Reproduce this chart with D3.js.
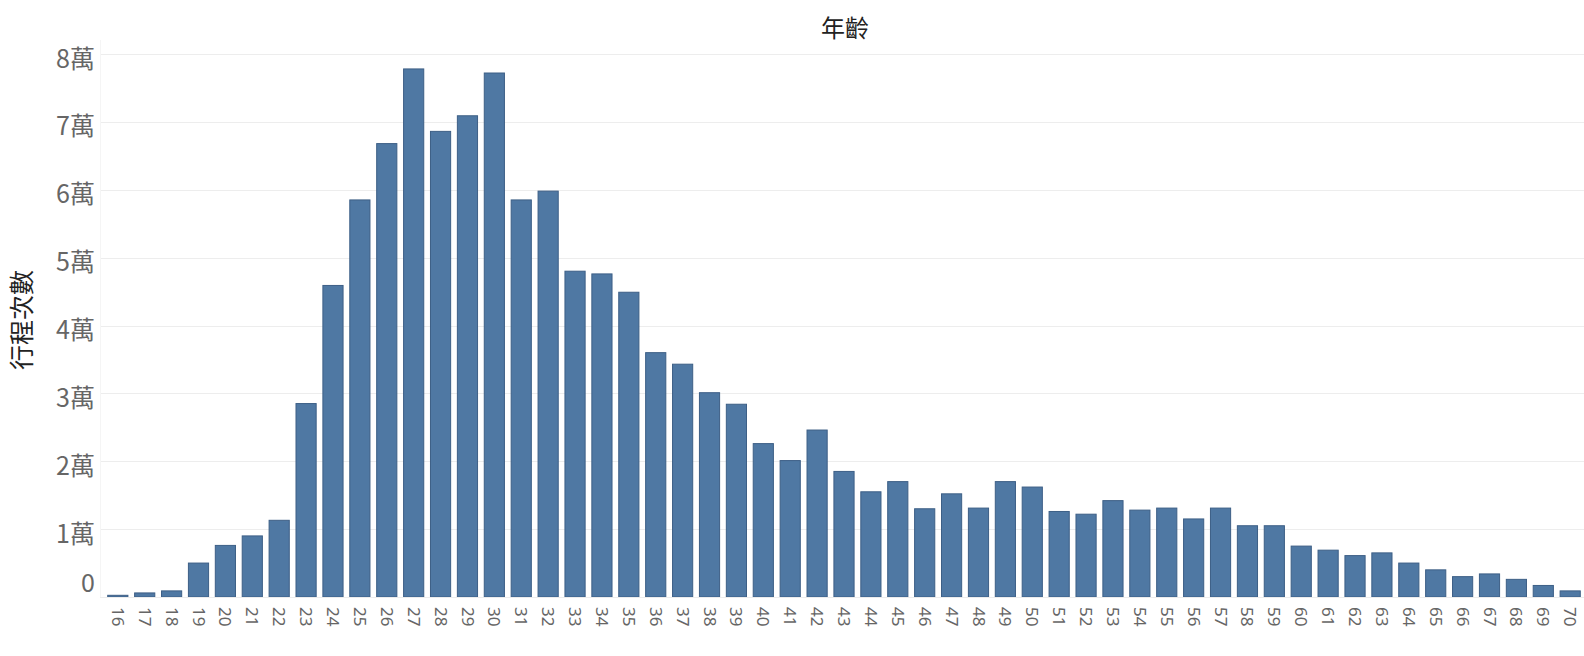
<!DOCTYPE html>
<html>
<head>
<meta charset="utf-8">
<script src="https://cdn.jsdelivr.net/npm/d3@7"></script>
<style>
  body { margin: 0; background: #fff; }
  svg { display: block; font-family: "Noto Sans CJK TC", "Noto Sans", sans-serif; }
</style>
</head>
<body>
<svg id="chart"></svg>
<script>
// Ages on the x axis
const ages = d3.range(16, 71).map(String);

// Trip counts per age
const trips = [
    250, 600, 900, 5000, 7600, 9000, 11300, 28500, 45900, 58500,
    66800, 77800, 68600, 70900, 77200, 58500, 59800, 48000, 47600, 44900,
    36000, 34300, 30100, 28400, 22600, 20100, 24600, 18500, 15500, 17000,
    13000, 15200, 13100, 17000, 16200, 12600, 12200, 14200, 12800, 13100,
    11500, 13100, 10500, 10500, 7500, 6900, 6100, 6500, 5000, 4000,
    3000, 3400, 2600, 1700, 900
];

// Y tick values and labels
const yTicks = [0, 10000, 20000, 30000, 40000, 50000, 60000, 70000, 80000];
const yTickLabels = ['0', '1萬', '2萬', '3萬', '4萬', '5萬', '6萬', '7萬', '8萬'];

const width = 1584;
const height = 656;

const svg = d3.select('#chart')
    .attr('width', width)
    .attr('height', height);

const x = d3.scaleBand()
    .domain(ages)
    .range([101, 1587])
    .paddingInner(0.25)
    .paddingOuter(0.25);

const y = d3.scaleLinear()
    .domain([0, 80000])
    .range([597, 54]);

// Gridlines
svg.append('g')
    .selectAll('line')
    .data(yTicks)
    .enter()
    .append('line')
    .attr('x1', 100)
    .attr('x2', width)
    .attr('y1', d => Math.round(y(d)) + 0.5)
    .attr('y2', d => Math.round(y(d)) + 0.5)
    .attr('stroke', '#ededed')
    .attr('stroke-width', 1);

// faint left edge of the pane
svg.append('line')
    .attr('x1', 100.5).attr('x2', 100.5)
    .attr('y1', 40).attr('y2', 597)
    .attr('stroke', '#f5f5f5');

// Y axis labels
const yAxis = d3.axisLeft(y)
    .tickValues(yTicks)
    .tickSize(0)
    .tickPadding(0)
    .tickFormat((d, i) => yTickLabels[i]);

svg.append('g')
    .attr('transform', 'translate(95, 0)')
    .call(yAxis)
    .call(g => g.select('.domain').remove())
    .selectAll('text')
    .attr('font-family', '"Noto Sans CJK TC", sans-serif')
    .attr('font-size', '25px')
    .attr('fill', '#666')
    // the zero label sits above the baseline, the others just under their gridline
    .attr('y', d => d === 0 ? -14 : 5)
    .attr('dy', '0.32em');

// Bars
svg.append('g')
    .selectAll('rect')
    .data(trips)
    .enter()
    .append('rect')
    .attr('x', (d, i) => x(ages[i]))
    .attr('y', d => y(d))
    .attr('width', x.bandwidth())
    .attr('height', d => y(0) - y(d))
    .attr('fill', '#4f78a3')
    .attr('stroke', '#3d5f86')
    .attr('stroke-width', 1);

// X axis
const xAxis = d3.axisBottom(x)
    .tickSize(0)
    .tickPadding(0);

svg.append('g')
    .attr('transform', `translate(0, ${y(0)})`)
    .call(xAxis)
    .call(g => g.select('.domain').attr('stroke', '#ececec'))
    .selectAll('text')
    .attr('font-family', '"Noto Sans", sans-serif')
    .attr('font-size', '17px')
    .attr('fill', '#666')
    .attr('transform', 'rotate(90)')
    .attr('x', 10)
    .attr('y', 0)
    .attr('dy', '0.35em')
    .style('text-anchor', 'start');

// Title
svg.append('text')
    .attr('x', 845)
    .attr('y', 37)
    .attr('text-anchor', 'middle')
    .attr('font-size', '24px')
    .attr('fill', '#222')
    .text('年齡');

// Y axis title
svg.append('text')
    .attr('transform', 'translate(31, 320) rotate(-90)')
    .attr('text-anchor', 'middle')
    .attr('font-size', '25px')
    .attr('fill', '#222')
    .text('行程次數');
</script>
</body>
</html>
